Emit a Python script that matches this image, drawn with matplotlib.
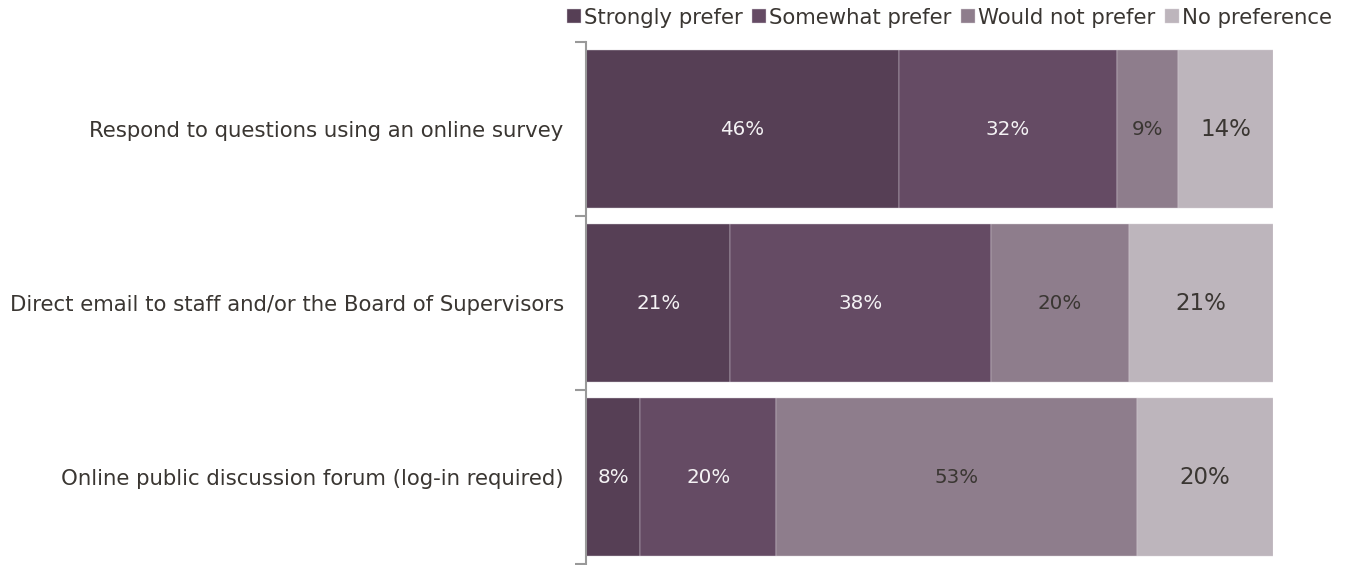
import numpy as np
import matplotlib.pyplot as plt

# survey responses, percent of respondents
categories = [
    "Respond to questions using an online survey",
    "Direct email to staff and/or the Board of Supervisors",
    "Online public discussion forum (log-in required)",
]
series_names = ["Strongly prefer", "Somewhat prefer", "Would not prefer", "No preference"]
strongly = [46, 21, 8]
somewhat = [32, 38, 20]
would_not = [9, 20, 53]
no_pref = [14, 21, 20]

colors = ["#563F55", "#654B64", "#8E7D8C", "#BDB5BC"]
label_colors = ["#f4f2f4", "#f4f2f4", "#3a3632", "#3a3632"]
label_sizes = [14.3, 14.3, 14.3, 16.5]
text_color = "#3a3632"

data = np.array([strongly, somewhat, would_not, no_pref], dtype=float)
# each row drawn as a 100% stacked bar
shares = data / data.sum(axis=0) * 100

fig = plt.figure(figsize=(13.51, 5.65), dpi=100)
ax = fig.add_axes([586 / 1351, 1 / 565, 687 / 1351, 522 / 565])

y = np.arange(len(categories))
left = np.zeros(len(categories))
for i, name in enumerate(series_names):
    bars = ax.barh(y, shares[i], left=left, height=0.905, color=colors[i],
                   label=name, edgecolor="#d8d0d8", linewidth=0.3)
    for j, b in enumerate(bars):
        ax.text(left[j] + shares[i][j] / 2, y[j], f"{int(data[i][j])}%",
                ha="center", va="center", color=label_colors[i],
                fontsize=label_sizes[i])
    left += shares[i]

ax.set_xlim(0, 100)
ax.set_ylim(2.5, -0.5)
ax.set_xticks([])
ax.set_yticks(y)
ax.set_yticklabels(categories, fontsize=15.3, color=text_color)
ax.tick_params(axis="y", length=0, pad=16)
# boundary ticks between categories
ax.set_yticks([-0.5, 0.5, 1.5, 2.5], minor=True)
ax.tick_params(axis="y", which="minor", length=8, color="#999999", width=1.5)

for side in ["top", "right", "bottom"]:
    ax.spines[side].set_visible(False)
ax.spines["left"].set_color("#999999")
ax.spines["left"].set_linewidth(1.5)

fig.legend(loc="upper right", bbox_to_anchor=(0.997, 1.013), ncol=4, frameon=False,
           fontsize=15.3, handlelength=0.65, handleheight=0.65, handletextpad=0.15,
           columnspacing=0.45, borderpad=0.2, labelcolor=text_color)

fig.savefig("out.png", dpi=100)
